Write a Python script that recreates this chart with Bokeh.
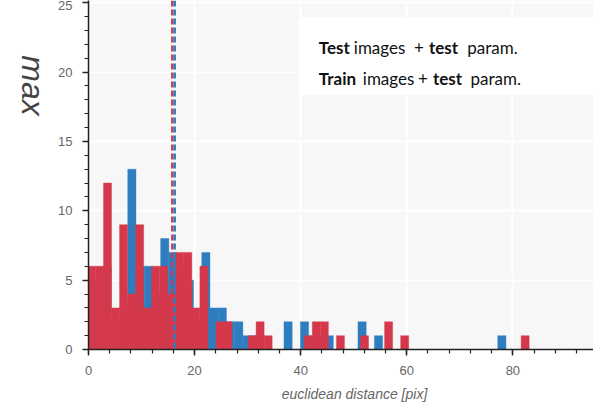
import numpy as np
from bokeh.plotting import figure
from bokeh.models import Span, Label, BoxAnnotation, SingleIntervalTicker
from bokeh.embed import file_html
from bokeh.resources import INLINE

# ---- data ----
# histogram: "Test images + test param." (blue)
blue_start = 1.2
blue_width = 1.55
blue_counts = [5, 6, 2, 3, 13, 6, 6, 4, 8, 7,
               6, 5, 2, 7, 3, 3, 2, 2, 1, 1,
               0, 0, 0, 2, 0, 2, 1, 1, 1, 0,
               0, 0, 2, 0, 1, 0, 0, 0, 0, 0,
               0, 0, 0, 0, 0, 0, 0, 0, 0, 1]
# histogram: "Train images + test param." (red)
red_start = -0.2
red_width = 1.514
red_counts = [6, 6, 12, 3, 9, 4, 9, 3, 6, 6,
              4, 7, 7, 3, 6, 0, 2, 2, 0, 0,
              1, 2, 1, 0, 0, 0, 0, 1, 2, 2,
              0, 1, 0, 0, 1, 0, 0, 2, 0, 1,
              0, 0, 0, 0, 0, 0, 0, 0, 0, 0,
              0, 0, 0, 0, 1]
mean_blue = 16.25
mean_red = 15.8

BLUE = "#2e7ebf"
RED = "#d6384b"

blue_edges = blue_start + blue_width * np.arange(len(blue_counts) + 1)
red_edges = red_start + red_width * np.arange(len(red_counts) + 1)

p = figure(width=593, height=402, x_range=(0, 95.2), y_range=(0, 25.16),
           output_backend="svg", toolbar_location=None,
           min_border_left=88, min_border_right=0, min_border_top=0,
           min_border_bottom=53)
p.background_fill_color = "#f7f7f7"
p.border_fill_color = "white"
p.outline_line_color = None

p.xgrid.grid_line_color = "white"
p.ygrid.grid_line_color = "white"
p.xgrid.grid_line_width = 2
p.ygrid.grid_line_width = 2

p.quad(left=blue_edges[:-1], right=blue_edges[1:], top=blue_counts, bottom=0,
       fill_color=BLUE, line_color=BLUE, line_width=0.4)
p.quad(left=red_edges[:-1], right=red_edges[1:], top=red_counts, bottom=0,
       fill_color=RED, line_color=RED, line_width=0.4)

p.add_layout(Span(location=mean_red, dimension="height", line_color=RED,
                  line_width=2.5, line_dash="6 3"))
p.add_layout(Span(location=mean_blue, dimension="height", line_color=BLUE,
                  line_width=2.5, line_dash="6 3"))

p.xaxis.ticker = SingleIntervalTicker(interval=20, num_minor_ticks=5)
p.yaxis.ticker = SingleIntervalTicker(interval=5, num_minor_ticks=5)
for ax in (p.xaxis, p.yaxis):
    ax.axis_line_color = "#222222"
    ax.axis_line_width = 1.5
    ax.major_tick_line_color = "#222222"
    ax.major_tick_line_width = 1.5
    ax.minor_tick_line_color = "#222222"
    ax.minor_tick_line_width = 1.2
    ax.major_tick_in = 0
    ax.major_tick_out = 6
    ax.minor_tick_in = 0
    ax.minor_tick_out = 4
    ax.major_label_text_font = "Liberation Sans"
    ax.major_label_text_font_size = "13px"
    ax.major_label_text_color = "#666666"
    ax.major_label_standoff = 10

# white legend box
p.add_layout(BoxAnnotation(left=210, right=520, top=332, bottom=254.5,
                           left_units="screen", right_units="screen",
                           top_units="screen", bottom_units="screen",
                           fill_color="white", fill_alpha=1.0, line_color=None,
                           level="overlay"))

def seg(x, y, t, bold=False):
    p.add_layout(Label(x=x, y=y, x_units="screen", y_units="screen", text=t,
                       text_font="Lato", text_font_size="17px",
                       text_font_style="bold" if bold else "normal",
                       text_color="#111111", text_baseline="alphabetic",
                       level="overlay"))

seg(230.3, 301.7, "Test", True)
seg(265.3, 301.7, "images")
seg(325.5, 301.7, "+")
seg(340.5, 301.7, "test", True)
seg(378.7, 301.7, "param.")
seg(230.3, 270.7, "Train", True)
seg(274.3, 270.7, "images")
seg(329.5, 270.7, "+")
seg(344.5, 270.7, "test", True)
seg(382.0, 270.7, "param.")

# axis titles placed in the side panels (not clipped to the frame)
p.add_layout(Label(x=32, y=85, x_units="canvas", y_units="canvas", text="max",
                   angle=-np.pi / 2, text_align="center", text_baseline="middle",
                   text_font="Liberation Sans", text_font_size="32px",
                   text_font_style="italic", text_color="#444444"), "left")
p.add_layout(Label(x=354, y=393, x_units="canvas", y_units="canvas",
                   text="euclidean distance [pix]", text_align="center",
                   text_baseline="middle", text_font="Liberation Sans",
                   text_font_size="14px", text_font_style="italic",
                   text_color="#666666"), "below")

open("out.html", "w").write(file_html(p, INLINE))
